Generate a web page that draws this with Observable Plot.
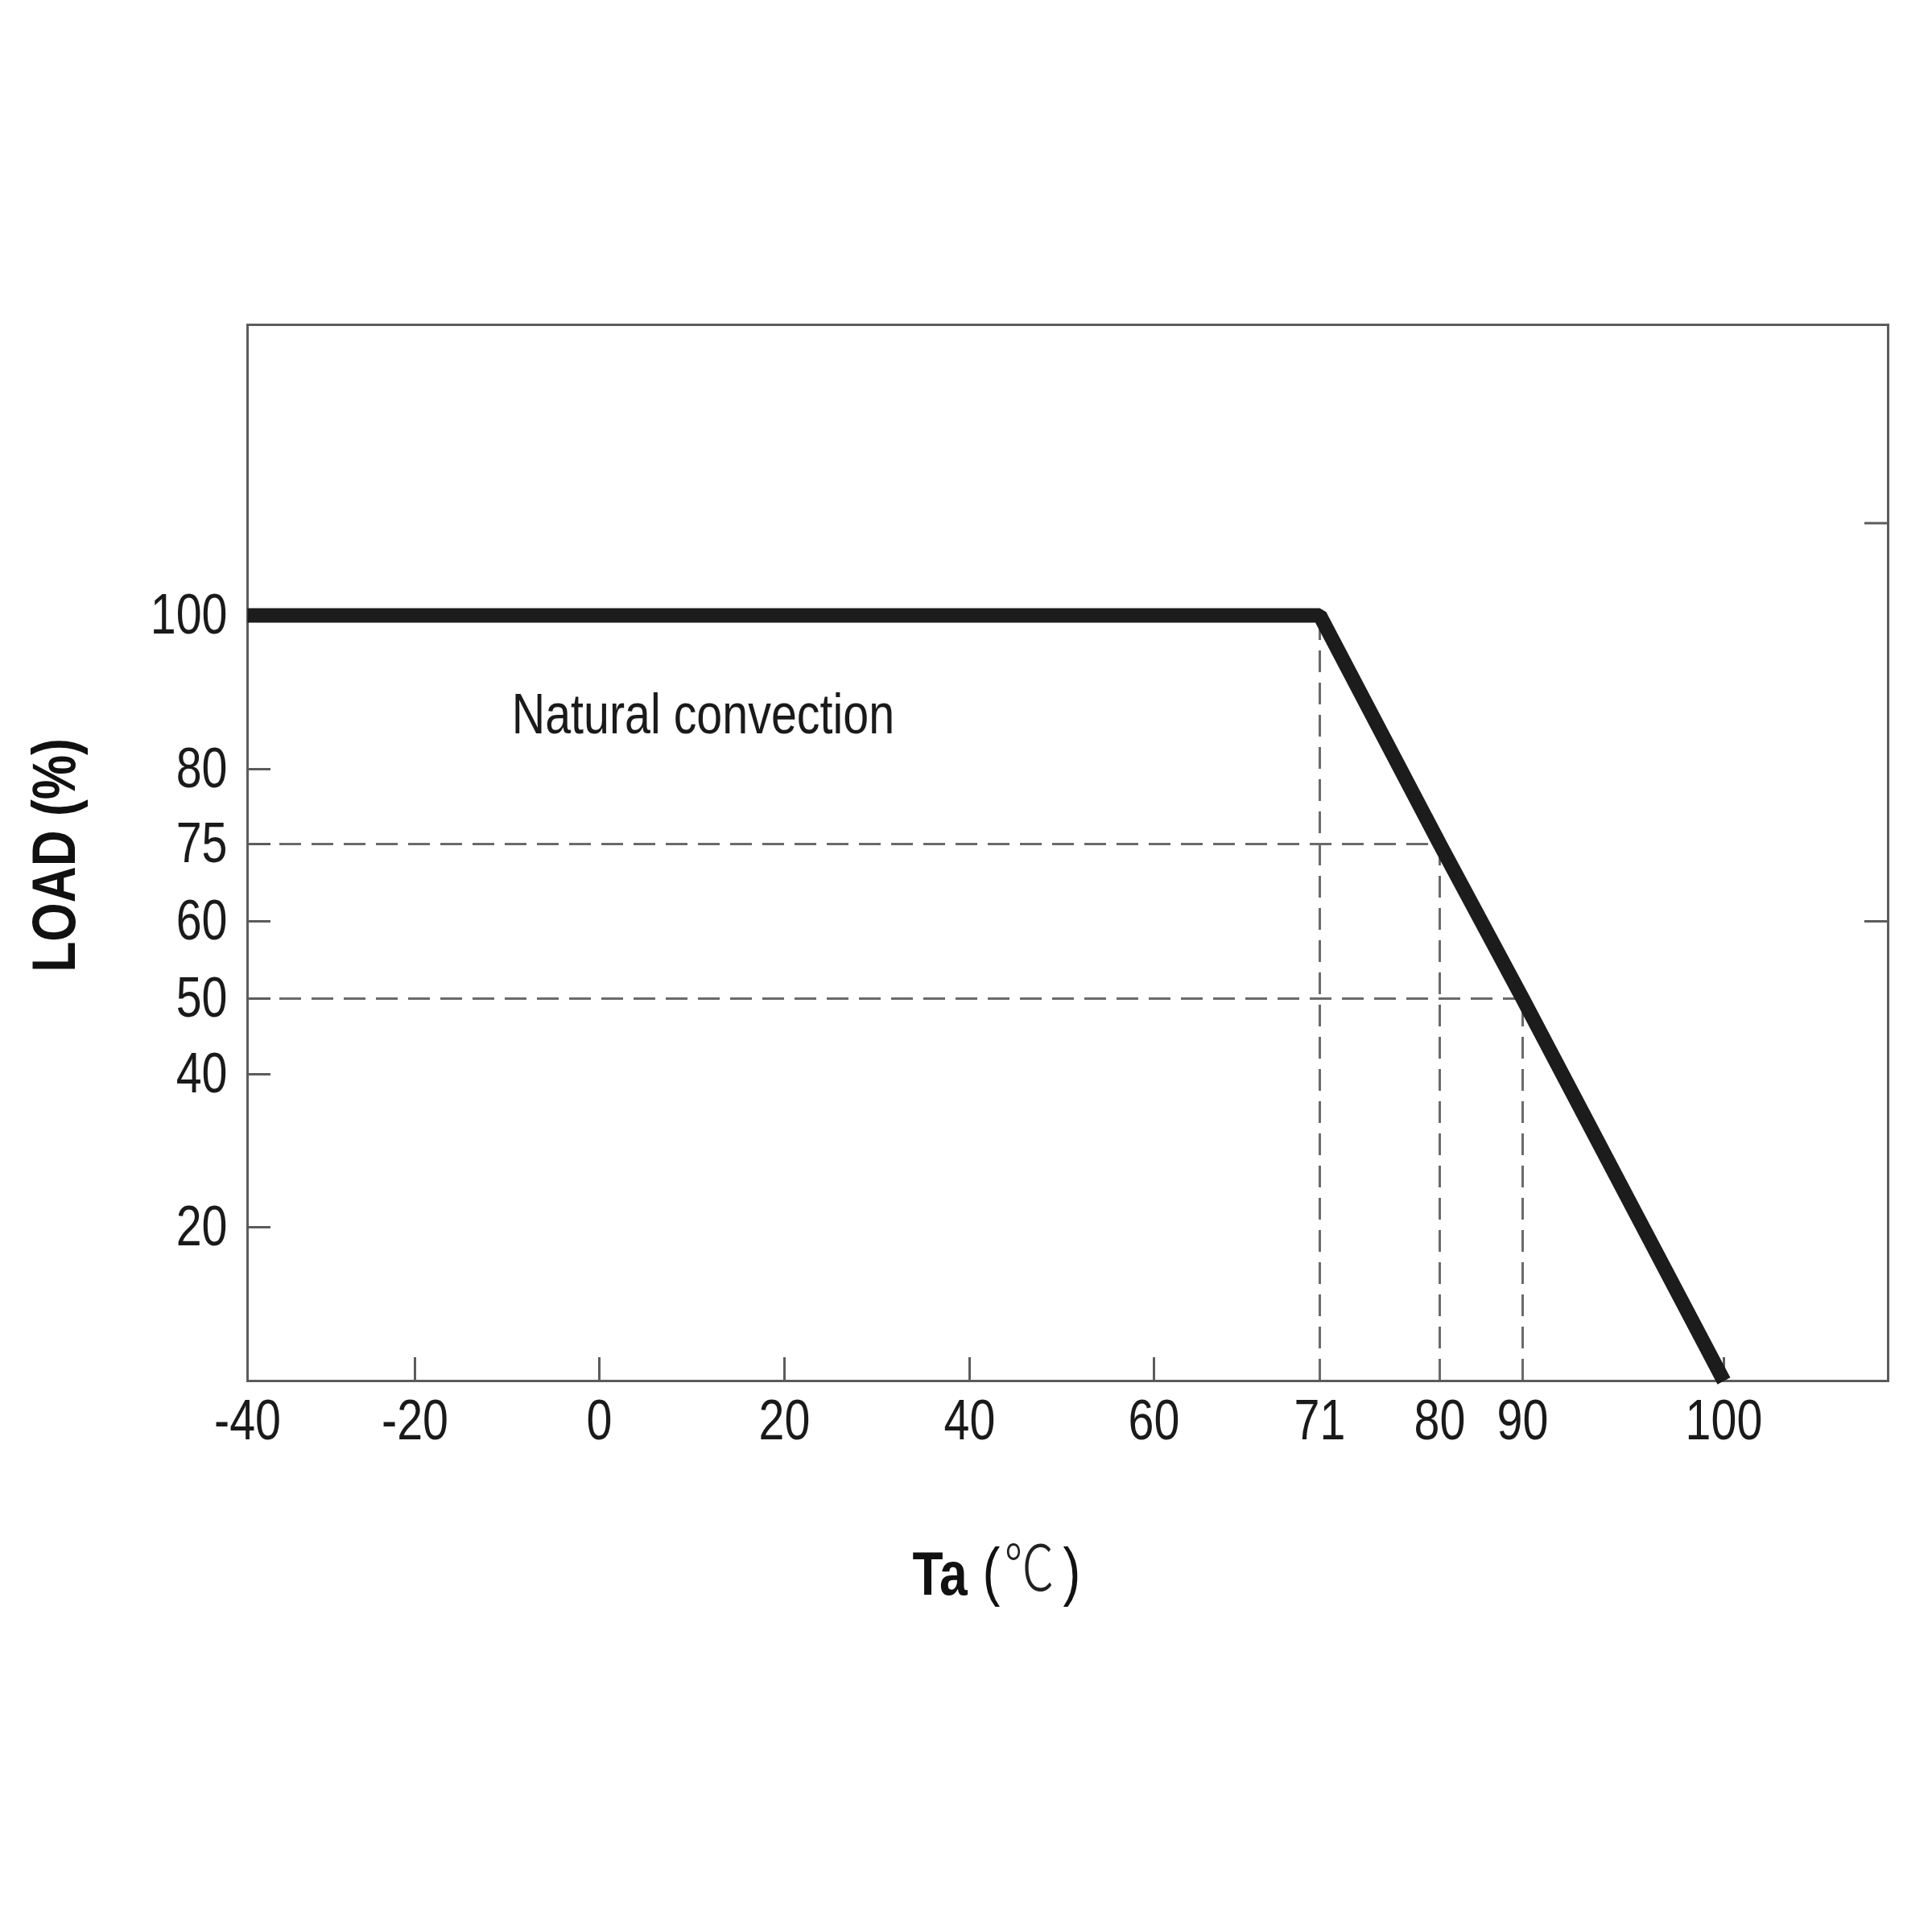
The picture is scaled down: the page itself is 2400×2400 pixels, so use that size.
<!DOCTYPE html>
<html>
<head>
<meta charset="utf-8">
<script src="https://cdn.jsdelivr.net/npm/d3@7"></script>
<script src="https://cdn.jsdelivr.net/npm/@observablehq/plot@0.6"></script>
<style>
  html, body { margin: 0; padding: 0; background: #fff; }
  #chart svg { display: block; }
</style>
</head>
<body>
<div id="chart"></div>
<script>
// ---- data ----
const temps = [-40, 71, 80, 90, 100];      // Ta (°C)
const loads = [100, 100, 75, 50, 0];       // LOAD (%)
const guideTemps = [71, 80, 90];
const guideLoads = [100, 75, 50];
const xTickValues = [-40, -20, 0, 20, 40, 60, 71, 80, 90, 100];
const xTickMarks = [-20, 0, 20, 40, 60, 100];
const yTickValues = [100, 80, 75, 60, 50, 40, 20];
const yTickMarks = [80, 75, 60, 50, 40, 20];
const rightTickMarks = [112, 60];
const noteText = "Natural convection";
const noteTemp = -9.5;
const noteLoad = 87;
const yLabel = "LOAD (%)";
const xLabelMain = "Ta";
const xLabelOpen = "(";
const xLabelUnit = "℃";
const xLabelClose = ")";

// ---- layout (the reference uses uneven, hand-drawn axis spacing) ----
const W = 2400, H = 2400;
const mLeft = 307, mRight = 55, mTop = 403, mBottom = 685;
const xDomain = [-40, -20, 0, 20, 40, 60, 71, 80, 90, 100, 108.3];
const xRange  = [307, 515, 744, 974, 1204, 1433, 1639, 1788, 1891, 2141, 2345];
const yDomain = [0, 20, 40, 50, 60, 75, 80, 100, 137.8];
const yRange  = [1715, 1524, 1334, 1240, 1144, 1048, 955, 764, 403];

const curve = temps.map((t, i) => ({t, load: loads[i]}));
const guides = guideTemps.map((t, i) => ({t, load: guideLoads[i]}));

const sans = "'Liberation Sans', Arial, sans-serif";
const frameColor = "#5c5c5c";
const dashColor = "#6a6a6a";
const textColor = "#1a1a1a";

const chart = Plot.plot({
  width: W,
  height: H,
  marginLeft: mLeft,
  marginRight: mRight,
  marginTop: mTop,
  marginBottom: mBottom,
  style: {background: "#fff", color: textColor},
  x: {type: "linear", domain: xDomain, range: xRange},
  y: {type: "linear", domain: yDomain, range: yRange},
  marks: [
    // dashed guides
    Plot.ruleX(guides, {x: "t", y1: 0, y2: "load", stroke: dashColor, strokeWidth: 3, strokeDasharray: "27,13"}),
    Plot.ruleY(guides.filter(d => d.load < 100), {y: "load", x1: -40, x2: "t", stroke: dashColor, strokeWidth: 3, strokeDasharray: "27,13"}),
    // frame
    Plot.frame({stroke: frameColor, strokeWidth: 3}),
    // inward ticks
    Plot.axisX(xTickMarks, {anchor: "bottom", tickSize: -29, strokeWidth: 3, stroke: frameColor, fill: "none", label: null}),
    Plot.axisY(yTickMarks, {anchor: "left", tickSize: -29, strokeWidth: 3, stroke: frameColor, fill: "none", label: null}),
    Plot.axisY(rightTickMarks, {anchor: "right", tickSize: -30, strokeWidth: 3, stroke: frameColor, fill: "none", label: null}),
    // tick labels
    Plot.axisX(xTickValues, {anchor: "bottom", tickSize: 0, tickPadding: 23, fontSize: 70, fontFamily: sans, fill: textColor, label: null, tickFormat: d => String(d)}),
    Plot.axisY(yTickValues, {anchor: "left", tickSize: 0, tickPadding: 25, fontSize: 70, fontFamily: sans, fill: textColor, label: null, tickFormat: d => String(d)}),
    // derating curve
    Plot.line(curve, {x: "t", y: "load", stroke: "#1c1c1c", strokeWidth: 18, strokeLinejoin: "miter", strokeLinecap: "butt"}),
    // annotation
    Plot.text([noteText], {x: () => noteTemp, y: () => noteLoad, text: d => d, textAnchor: "start", lineAnchor: "middle", fontSize: 70, fontFamily: sans, fill: textColor}),
    // axis titles
    Plot.text([yLabel], {text: d => d, frameAnchor: "left", dx: -239, dy: 3, rotate: -90, textAnchor: "middle", lineAnchor: "middle", fontSize: 76, fontWeight: "bold", fontFamily: sans, fill: "#111"}),
    Plot.text([xLabelMain], {text: d => d, frameAnchor: "bottom", dx: -193, dy: 241, textAnchor: "start", lineAnchor: "middle", fontSize: 76, fontWeight: "bold", fontFamily: sans, fill: "#111"}),
    Plot.text([xLabelOpen], {text: d => d, frameAnchor: "bottom", dx: -106, dy: 238, textAnchor: "start", lineAnchor: "middle", fontSize: 80, fontFamily: sans, fill: "#111"}),
    Plot.text([xLabelUnit], {text: d => d, frameAnchor: "bottom", dx: -48, dy: 236, textAnchor: "middle", lineAnchor: "middle", fontSize: 78, fontWeight: 300, fontFamily: "'Noto Sans CJK SC', 'Noto Sans CJK JP', sans-serif", fill: "#222"}),
    Plot.text([xLabelClose], {text: d => d, frameAnchor: "bottom", dx: -6, dy: 238, textAnchor: "start", lineAnchor: "middle", fontSize: 80, fontFamily: sans, fill: "#111"})
  ]
});

// condensed lettering, as in the reference (Arial Narrow–like)
chart.querySelectorAll("text").forEach(el => {
  const s = el.textContent === "℃" ? 0.8 : 0.82;
  const t = el.getAttribute("transform");
  if (t) {
    el.setAttribute("transform", `${t} scale(${s},1)`);
  } else {
    const x = parseFloat(el.getAttribute("x")) || 0;
    el.removeAttribute("x");
    el.setAttribute("transform", `translate(${x},0) scale(${s},1)`);
  }
});

document.getElementById("chart").appendChild(chart);
</script>
</body>
</html>
